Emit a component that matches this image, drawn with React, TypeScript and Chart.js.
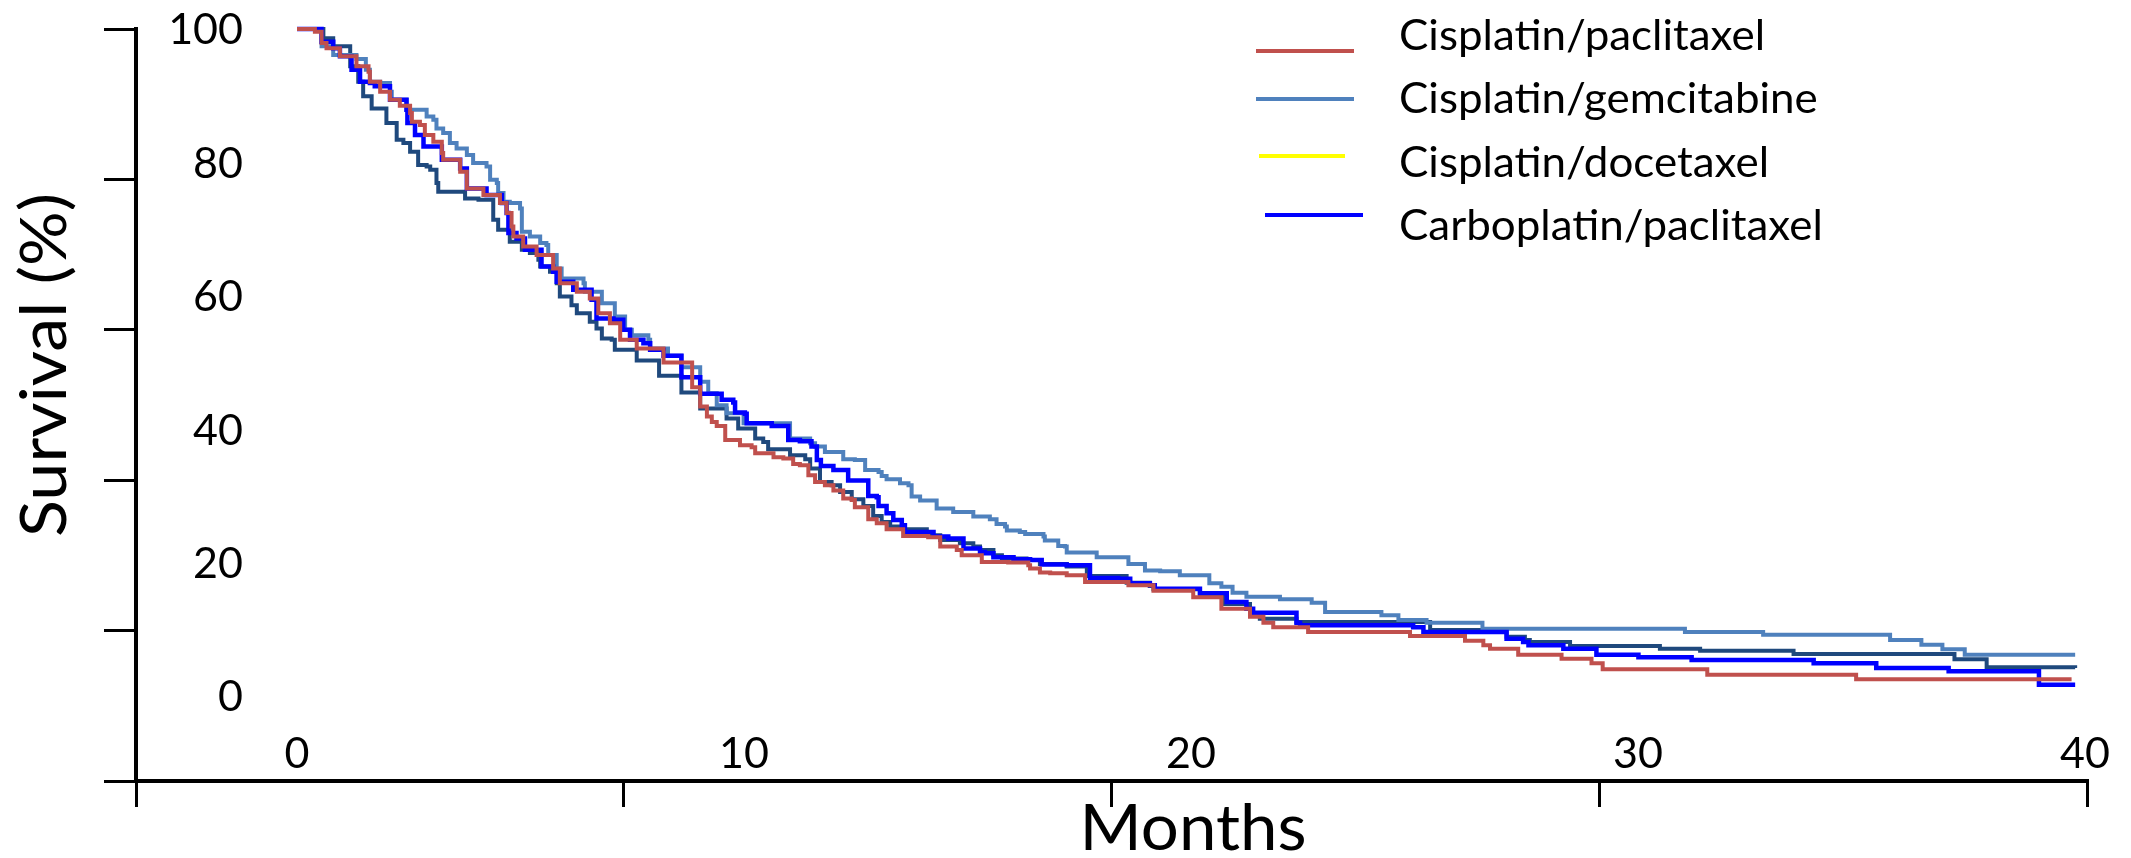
import React, { useEffect, useRef } from 'react';
import { Chart, registerables } from 'chart.js';

Chart.register(...registerables);

// ---------- data ----------
const SERIES_NAMES = ['Cisplatin/paclitaxel', 'Cisplatin/gemcitabine', 'Cisplatin/docetaxel', 'Carboplatin/paclitaxel'];
const LINE_COLORS = ['#C0504D', '#4F81BD', '#1F497D', '#0000FF'];
const LEGEND_COLORS = ['#C0504D', '#4F81BD', '#FFFF00', '#0000FF'];

const CIS_PAC_MONTHS = [0, 0.40, 0.55, 0.66, 0.96, 1.33, 1.60, 1.63, 1.86, 2.08, 2.30, 2.53, 2.57, 2.75, 2.86, 3.05, 3.24, 3.27, 3.65, 3.80, 4.17, 4.54, 4.69, 4.80, 4.84, 5.06, 5.36, 5.73, 5.88, 6.26, 6.55, 6.74, 7.00, 7.23, 7.60, 8.20, 8.84, 9.02, 9.17, 9.28, 9.39, 9.58, 9.91, 10.17, 10.25, 10.66, 10.88, 11.10, 11.25, 11.44, 11.59, 11.81, 12.00, 12.22, 12.41, 12.48, 12.78, 12.97, 13.19, 13.56, 14.12, 14.39, 14.76, 14.87, 15.32, 15.91, 16.36, 16.40, 16.62, 16.85, 17.22, 17.63, 18.60, 19.16, 20.05, 20.68, 21.32, 21.62, 21.84, 22.62, 24.90, 26.13, 26.54, 26.69, 27.32, 28.29, 28.96, 29.21, 31.55, 34.88, 39.70];
const CIS_PAC_SURV = [100, 99.6, 97.9, 97.1, 95.9, 94.4, 93.6, 92.1, 90.6, 89.4, 88.5, 87.4, 86.1, 85.6, 84.1, 83.1, 81.4, 80.4, 78.6, 76.1, 75.1, 73.9, 72.4, 70.4, 68.9, 67.4, 66.1, 64.1, 61.9, 60.6, 59.6, 57.4, 55.9, 53.4, 52.1, 50.0, 46.3, 43.4, 41.9, 41.1, 40.5, 38.4, 37.6, 37.3, 36.4, 35.8, 35.6, 34.8, 34.6, 33.1, 32.1, 31.6, 30.8, 29.6, 29.4, 28.3, 26.5, 25.9, 25.0, 24.0, 23.8, 22.4, 21.9, 21.1, 20.1, 20.0, 19.6, 19.1, 18.5, 18.4, 18.1, 17.1, 16.6, 15.8, 14.8, 13.1, 11.9, 11.0, 10.3, 9.6, 9.0, 8.3, 7.6, 7.1, 6.2, 5.6, 4.9, 4.0, 3.2, 2.5, 2.5];

const CIS_GEM_MONTHS = [0, 0.55, 0.81, 1.33, 1.54, 1.63, 1.86, 2.08, 2.12, 2.45, 2.90, 3.05, 3.12, 3.27, 3.42, 3.57, 3.80, 3.94, 4.24, 4.32, 4.47, 4.50, 4.62, 4.76, 4.99, 5.03, 5.21, 5.44, 5.58, 5.62, 5.81, 5.92, 6.41, 6.44, 6.82, 7.11, 7.34, 7.49, 7.86, 7.90, 8.30, 8.60, 9.02, 9.20, 9.39, 9.61, 9.99, 11.03, 11.48, 11.59, 11.81, 12.22, 12.48, 12.71, 13.01, 13.08, 13.19, 13.49, 13.68, 13.75, 13.94, 14.31, 14.68, 15.13, 15.50, 15.65, 15.84, 15.88, 16.17, 16.29, 16.70, 16.73, 17.03, 17.18, 17.22, 17.89, 18.60, 18.97, 19.31, 19.75, 20.41, 20.68, 20.93, 21.24, 21.99, 22.70, 23.00, 24.26, 24.64, 25.27, 26.52, 31.05, 32.80, 35.64, 36.34, 36.81, 37.31, 39.78];
const CIS_GEM_SURV = [100, 97.4, 96.1, 95.5, 93.9, 92.1, 91.9, 90.6, 89.4, 87.9, 86.9, 86.4, 85.1, 84.4, 82.9, 82.1, 81.1, 79.9, 79.4, 77.4, 76.9, 75.4, 74.1, 73.9, 73.1, 69.6, 68.9, 67.9, 67.6, 66.1, 64.1, 62.6, 61.9, 60.6, 58.9, 56.9, 54.9, 54.1, 53.4, 52.1, 51.0, 49.3, 47.1, 45.4, 43.6, 42.4, 40.9, 38.6, 37.9, 37.4, 36.6, 35.5, 35.4, 33.9, 33.6, 33.0, 32.5, 31.9, 31.6, 29.9, 29.3, 28.1, 27.6, 26.9, 26.5, 25.8, 25.4, 24.8, 24.6, 24.3, 23.9, 23.3, 22.5, 22.4, 21.5, 20.8, 19.8, 18.8, 18.7, 18.1, 16.9, 16.4, 15.5, 14.9, 14.5, 14.0, 12.6, 12.1, 11.4, 11.0, 10.1, 9.6, 9.2, 8.4, 7.7, 7.0, 6.2, 6.2];

const CIS_DOC_MONTHS = [0, 0.59, 0.81, 1.19, 1.37, 1.48, 1.67, 2.00, 2.23, 2.38, 2.53, 2.71, 2.90, 2.98, 3.12, 3.16, 3.76, 4.06, 4.39, 4.50, 4.76, 5.03, 5.21, 5.40, 5.44, 5.66, 5.81, 5.88, 6.14, 6.26, 6.55, 6.70, 6.82, 7.04, 7.11, 7.60, 8.10, 8.60, 9.02, 9.61, 9.87, 10.25, 10.43, 10.54, 11.03, 11.37, 11.48, 11.70, 11.96, 12.15, 12.41, 12.67, 12.89, 13.08, 13.27, 13.57, 14.09, 14.39, 14.83, 15.13, 15.28, 15.58, 15.77, 16.32, 16.62, 17.22, 17.67, 18.56, 19.08, 19.16, 20.20, 20.76, 21.32, 21.54, 22.36, 25.35, 26.69, 27.06, 27.47, 27.58, 28.48, 30.49, 31.39, 33.48, 37.08, 37.80, 39.78];
const CIS_DOC_SURV = [100, 98.6, 97.4, 94.4, 92.1, 89.9, 88.1, 85.9, 83.4, 82.9, 81.6, 79.6, 79.4, 78.9, 76.9, 75.6, 74.6, 74.4, 71.4, 69.9, 68.1, 66.9, 66.4, 65.4, 64.4, 63.6, 61.9, 59.9, 58.6, 57.4, 56.1, 55.1, 53.6, 53.4, 51.9, 50.3, 48.0, 45.5, 43.1, 41.6, 40.1, 38.6, 38.1, 37.0, 36.1, 35.5, 34.1, 32.1, 31.6, 30.6, 29.5, 28.5, 27.0, 26.1, 25.4, 25.0, 24.1, 23.4, 22.9, 22.4, 21.9, 21.1, 20.6, 20.4, 19.8, 19.4, 18.0, 17.0, 16.5, 16.0, 14.9, 13.8, 12.0, 11.6, 11.1, 9.9, 9.6, 8.9, 8.4, 8.1, 7.5, 7.1, 6.8, 6.3, 5.5, 4.3, 4.2];

const CARBO_PAC_MONTHS = [0, 0.55, 0.81, 0.96, 1.22, 1.41, 1.63, 1.74, 2.08, 2.45, 2.47, 2.64, 2.83, 3.24, 3.65, 3.80, 4.24, 4.58, 4.69, 4.73, 4.91, 5.10, 5.47, 5.73, 5.81, 6.18, 6.59, 6.70, 7.08, 7.30, 7.45, 7.75, 7.90, 8.20, 8.60, 9.02, 9.50, 9.76, 9.80, 10.02, 10.06, 10.62, 10.99, 11.25, 11.51, 11.63, 11.72, 12.00, 12.33, 12.78, 12.97, 13.01, 13.19, 13.34, 13.53, 13.60, 14.24, 14.57, 14.91, 15.28, 15.39, 15.58, 16.03, 16.40, 16.66, 17.22, 17.74, 18.37, 18.64, 19.08, 19.19, 20.20, 20.80, 21.24, 21.39, 22.36, 22.44, 24.97, 25.20, 27.06, 27.43, 27.55, 28.33, 29.07, 30.01, 31.20, 33.93, 35.33, 36.95, 38.97, 39.78];
const CARBO_PAC_SURV = [100, 98.1, 97.1, 95.9, 93.9, 92.1, 91.9, 91.4, 89.4, 87.9, 85.9, 84.1, 82.4, 80.4, 79.1, 76.1, 75.1, 73.9, 72.4, 69.4, 68.6, 66.9, 64.4, 63.6, 62.1, 60.9, 59.4, 56.6, 56.4, 54.9, 53.4, 52.9, 51.9, 51.0, 47.8, 45.3, 44.4, 44.0, 42.5, 42.3, 40.9, 40.5, 38.4, 38.2, 37.4, 35.4, 34.5, 33.9, 32.3, 30.0, 29.8, 28.5, 27.4, 26.4, 25.6, 24.6, 23.9, 23.6, 22.1, 21.6, 21.4, 20.8, 20.5, 20.4, 19.7, 19.6, 17.7, 17.6, 16.9, 16.6, 16.1, 15.4, 14.1, 13.1, 12.5, 11.0, 10.6, 10.3, 9.6, 8.6, 8.1, 7.6, 7.1, 6.2, 5.8, 5.4, 4.9, 4.2, 3.7, 1.7, 1.7];

const X_TICK_VALUES = [0, 10, 20, 30, 40];
const X_TICK_LABELS = ['0', '10', '20', '30', '40'];
const Y_TICK_VALUES = [100, 80, 60, 40, 20, 0];
const Y_TICK_LABELS = ['100', '80', '60', '40', '20', '0'];

// ---------- layout / style ----------
const W = 2131;
const H = 858;
const FONT = 'Lato, "Open Sans", sans-serif';
const CAP = 0.7165; // cap / digit height of Lato per px of font size
const TICK_FONT = 43;
const LEGEND_FONT = 42;
const TITLE_FONT = 64;

const LEGEND_TEXT_X = 1399;
const LEGEND_ROW0 = 35;
const LEGEND_ROW_GAP = 63.3;
const LEGEND_TEXT_WIDTH0 = 366;
const LEGEND_LINES = [
  { x0: 1256, x1: 1354, y: 51 },
  { x0: 1256, x1: 1354, y: 99 },
  { x0: 1259, x1: 1345, y: 156 },
  { x0: 1265, x1: 1363, y: 215 },
];

function zip(xs: number[], ys: number[]) {
  const n = Math.min(xs.length, ys.length);
  const out: { x: number; y: number }[] = [];
  for (let i = 0; i < n; i++) out.push({ x: xs[i], y: ys[i] });
  return out;
}

const SERIES_POINTS = [
  zip(CIS_PAC_MONTHS, CIS_PAC_SURV),
  zip(CIS_GEM_MONTHS, CIS_GEM_SURV),
  zip(CIS_DOC_MONTHS, CIS_DOC_SURV),
  zip(CARBO_PAC_MONTHS, CARBO_PAC_SURV),
];
const LINE_WIDTHS = [4, 4, 4, 4.5];
const DRAW_ORDER = [0, 2, 3, 1];

function fitText(ctx: CanvasRenderingContext2D, text: string, x: number, y: number, width: number) {
  const w = ctx.measureText(text).width || 1;
  ctx.save();
  ctx.translate(x, y);
  ctx.scale(width / w, 1);
  ctx.fillText(text, 0, 0);
  ctx.restore();
}

const overlayPlugin = {
  id: 'kmOverlay',
  afterDraw(chart: any) {
    const ctx: CanvasRenderingContext2D = chart.ctx;
    const area = chart.chartArea;
    const xs = chart.scales.xKM;
    const ys = chart.scales.yKM;
    ctx.save();
    ctx.fillStyle = '#000';
    ctx.textBaseline = 'alphabetic';

    // tick labels (placed on the survival / month scales)
    ctx.font = `${TICK_FONT}px ${FONT}`;
    ctx.textAlign = 'center';
    X_TICK_VALUES.forEach((v, i) => {
      ctx.fillText(X_TICK_LABELS[i], xs.getPixelForValue(v), area.bottom - 13);
    });
    ctx.textAlign = 'right';
    Y_TICK_VALUES.forEach((v, i) => {
      ctx.fillText(Y_TICK_LABELS[i], area.left + 107, ys.getPixelForValue(v) + (CAP * TICK_FONT) / 2);
    });

    // axis titles
    ctx.font = `${TITLE_FONT}px ${FONT}`;
    ctx.textAlign = 'center';
    fitText(ctx, 'Months', 1193, 850, 227);
    ctx.save();
    ctx.translate(66, 365);
    ctx.rotate(-Math.PI / 2);
    fitText(ctx, 'Survival (%)', 0, 0, 344);
    ctx.restore();

    // legend
    ctx.font = `${LEGEND_FONT}px ${FONT}`;
    ctx.textAlign = 'left';
    const s = LEGEND_TEXT_WIDTH0 / (ctx.measureText(SERIES_NAMES[0]).width || 1);
    SERIES_NAMES.forEach((name, i) => {
      const ln = LEGEND_LINES[i];
      ctx.strokeStyle = LEGEND_COLORS[i];
      ctx.lineWidth = 4;
      ctx.beginPath();
      ctx.moveTo(ln.x0, ln.y);
      ctx.lineTo(ln.x1, ln.y);
      ctx.stroke();
      const cy = LEGEND_ROW0 + LEGEND_ROW_GAP * i;
      ctx.save();
      ctx.translate(LEGEND_TEXT_X, cy + (CAP * LEGEND_FONT) / 2);
      ctx.scale(s, 1);
      ctx.fillText(name, 0, 0);
      ctx.restore();
    });
    ctx.restore();
  },
};

export default function App() {
  const ref = useRef<HTMLCanvasElement>(null);
  useEffect(() => {
    if (!ref.current) return;
    const axisStyle = (tickLength: number) => ({
      grid: { display: true, drawOnChartArea: false, drawTicks: true, tickLength, lineWidth: 3, color: '#000' },
      border: { display: true, color: '#000', width: 4 },
    });
    const chart = new Chart(ref.current, {
      type: 'line',
      data: {
        datasets: SERIES_NAMES.map((name, i) => ({
          label: name,
          data: SERIES_POINTS[i],
          borderColor: LINE_COLORS[i],
          backgroundColor: LINE_COLORS[i],
          borderWidth: LINE_WIDTHS[i],
          pointRadius: 0,
          stepped: true,
          fill: false,
          tension: 0,
          clip: false,
          order: DRAW_ORDER[i],
          xAxisID: 'xKM',
          yAxisID: 'yKM',
        })),
      },
      options: {
        animation: false,
        responsive: false,
        devicePixelRatio: 1,
        events: [],
        layout: { padding: { left: 104, right: 44, top: 29, bottom: 51 } },
        plugins: { legend: { display: false }, tooltip: { enabled: false } },
        scales: {
          x: {
            type: 'linear', axis: 'x', position: 'bottom', min: 0, max: 40,
            ticks: { stepSize: 10, display: false },
            ...axisStyle(26),
          },
          y: {
            type: 'linear', axis: 'y', position: 'left', min: 0, max: 100,
            ticks: { stepSize: 20, display: false },
            ...axisStyle(32),
          },
          xKM: { type: 'linear', axis: 'x', position: 'bottom', display: false, min: -3.602, max: 40.045 },
          yKM: { type: 'linear', axis: 'y', position: 'left', display: false, min: -12.74, max: 100 },
        },
      } as any,
      plugins: [overlayPlugin],
    });
    return () => chart.destroy();
  }, []);
  return (
    <div style={{ position: 'absolute', left: 0, top: 0, width: W, height: H, background: '#fff' }}>
      <canvas ref={ref} width={W} height={H} style={{ display: 'block', width: W, height: H }} />
    </div>
  );
}
